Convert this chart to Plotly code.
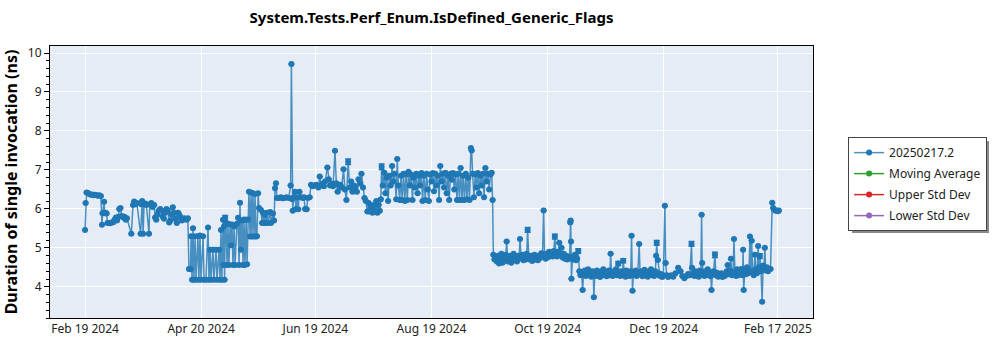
import plotly.graph_objects as go
import pandas as pd

start_date = "2024-02-19"

# day offsets from start_date and measured durations (ns)
days = [
    0, 0.3, 0.8, 1.5, 2.3, 3.0, 3.8, 4.5, 5.3, 6.0, 6.8, 7.5, 8.3,
    8.9, 9.2, 10.0, 10.3, 10.8, 11.3, 11.8, 12.5, 13.2, 14.0, 14.8, 15.5, 16.2, 16.8, 17.5, 18.0, 18.6, 19.3, 20.0, 20.7, 21.4, 22.0,
    24.3, 25.2, 25.8, 26.5, 27.2, 29.2, 29.6, 30.0, 30.5, 31.0, 31.6, 32.2, 33.6, 34.0, 34.8, 35.5, 36.3,
    36.8, 37.4, 38.0, 38.7, 39.5, 40.2, 40.8, 41.5, 42.1, 42.8, 43.5, 44.2, 44.8, 45.5, 46.1, 46.8, 47.5, 48.2, 48.9, 49.5, 50.2, 50.8, 51.5, 52.2, 52.8, 53.4, 54.0,
    54.6, 55.0, 55.4, 55.7, 56.2, 56.7, 57.2, 57.8, 58.3, 59.3, 59.8, 60.4, 60.9, 62.0, 62.5, 63.5, 64.6, 65.1, 65.7, 66.2, 67.2, 67.7, 68.8, 69.3, 70.4, 70.9, 71.4, 71.9, 72.5, 72.7, 73.0, 73.3,
    73.6, 74.0, 74.6, 75.1, 75.6, 76.2, 76.7, 77.2, 77.7, 78.3, 78.8, 79.8, 80.4, 80.9, 81.4, 81.9, 82.5, 83.0, 83.5, 84.0, 84.6, 85.1, 85.6,
    86.1, 86.7, 87.2, 87.7, 88.2, 88.8, 89.3, 89.8, 90.3, 90.9, 91.4, 92.4, 93.0, 93.5, 94.0, 94.5, 95.1, 95.6, 96.1, 97.2, 97.7, 98.7, 99.3,
    99.8, 100.3, 100.8, 101.8, 102.8, 103.8, 104.8, 105.8, 107.0, 108.0, 108.4, 108.8, 109.1, 109.6, 110.3, 110.8, 111.3, 112.0, 112.6, 113.3, 114.3, 115.0, 115.6, 116.4, 117.0, 118.0,
    118.7, 119.5, 120.5, 121.5, 122.5, 123.3, 124.0, 124.8, 125.5, 126.1, 127.3, 128.0, 128.7, 129.4, 130.3, 131.3, 132.0, 132.7, 133.4, 134.1, 134.8, 135.8, 136.5, 137.3, 138.2,
    139.0, 139.8, 140.5, 141.3, 142.0, 142.8, 143.7, 144.4, 145.2, 146.0, 146.8, 147.5, 148.3, 149.0, 149.6, 150.3, 151.0, 151.6, 152.3, 153.0, 153.6, 154.2, 154.8, 155.4,
    155.8, 156.4, 157.2, 157.8, 158.5, 159.2, 159.9, 160.5, 161.3, 161.9, 162.6, 163.5, 164.0, 164.6, 165.3, 166.0, 166.6, 167.3, 168.0, 168.6, 169.3, 169.9, 170.6, 171.3,
    172.0, 172.6, 173.3, 174.0, 174.7, 175.4, 176.0, 176.7, 177.3, 178.0, 178.7, 179.4, 180.0, 180.6, 181.3, 182.0, 182.7, 183.3, 184.0, 184.7, 185.3, 186.0, 186.6, 187.3,
    188.0, 188.6, 189.3, 190.0, 190.7, 191.3, 192.0, 192.7, 193.3, 194.0, 194.7, 195.4, 196.0, 196.7, 197.3, 198.0, 198.6, 199.3, 200.0, 200.6, 201.3, 202.0, 202.7, 203.1,
    203.6, 204.3, 205.0, 205.6, 206.3, 207.0, 207.6, 208.3, 209.0, 209.6, 210.3, 211.0, 211.6, 212.3, 213.0, 213.6, 214.1,
    214.5, 215.1, 215.7, 216.3, 216.9, 217.5, 218.1, 218.7, 219.3, 219.9, 220.5, 221.0, 221.5, 222.1, 222.7, 223.3, 223.9, 224.5, 225.1, 225.7, 226.3, 226.9, 227.5, 228.0,
    228.5, 229.1, 229.7, 230.3, 230.9, 231.5, 232.0, 232.5, 233.1, 233.7, 234.3, 234.9, 235.5, 236.1, 236.7, 237.3, 237.9, 238.5, 239.1, 239.7, 240.3, 240.9, 241.4, 242.0,
    242.6, 243.2, 243.8, 244.4, 245.0, 245.6, 246.2, 246.8, 247.4, 248.0, 248.6, 249.1, 249.7, 250.3, 250.9, 251.5, 252.1, 252.7, 253.3, 253.9, 254.5, 254.9, 255.1, 255.3,
    255.5, 256.1, 256.7, 257.3, 257.9, 258.5, 259.1,
    259.7, 260.3, 260.8, 261.4, 261.9, 262.5, 263.0, 263.6, 264.2, 264.7, 265.3, 265.9, 266.4, 267.0, 267.3, 267.8, 268.4, 268.9, 269.5, 270.1, 270.6, 271.2, 271.8, 272.3,
    272.9, 273.5, 274.0, 274.6, 275.2, 275.7, 276.1, 276.6, 277.2, 277.8, 278.3, 278.9, 279.5, 280.1, 280.6, 281.2, 281.8, 282.3, 282.7, 283.3, 283.9, 284.4, 285.0, 285.6,
    286.1, 286.7, 287.1, 287.6, 288.1, 288.7, 289.3, 289.8, 290.4, 291.1, 291.6, 292.2, 292.8, 293.3, 293.9, 294.5, 295.0, 295.6, 296.2, 296.7, 297.3, 297.9, 298.4, 299.0,
    299.6, 300.0, 300.3, 300.9, 301.5, 302.0, 302.6, 303.2, 303.8, 304.6, 305.0, 305.6, 306.3, 307.0, 308.0, 309.0, 310.2, 311.6, 312.8, 313.8, 314.8, 315.8, 316.8, 317.7,
    318.6, 318.9, 319.5, 320.1, 320.7, 321.2, 321.8, 322.4, 323.0, 323.5, 323.9, 324.2, 324.8, 325.4, 325.9, 326.5, 327.1, 327.6, 328.2, 328.7, 329.1, 329.6, 330.2, 330.9,
    331.4, 332.0, 332.6, 333.1, 333.7, 334.3, 334.9, 335.5, 336.1, 336.6, 337.1, 337.6, 338.2, 338.8, 339.3, 339.8, 340.4, 340.9, 341.4, 342.0, 342.6, 343.1, 343.7, 344.3,
    344.9, 345.4, 345.7, 346.0, 346.6, 347.2, 347.7, 348.3, 348.8, 349.3, 349.8, 350.2, 350.7, 351.3, 351.9, 352.4, 353.0, 353.6, 354.1, 354.5, 355.1, 355.7, 356.2, 356.6,
    357.1, 357.6, 358.2, 358.8, 359.4, 360.1, 361.0, 361.5, 362.1, 362.7, 363.4, 364.0, 364.5,
]

durations = [
    5.46, 6.15, 6.42, 6.41, 6.38, 6.36, 6.37, 6.35, 6.36, 6.35, 6.34, 6.35, 6.33,
    5.59, 5.89, 6.18, 5.89, 5.90, 5.88, 5.64, 5.64, 5.63, 5.65, 5.66, 5.72, 5.78, 5.70, 5.80, 6.00, 6.02, 5.82, 5.78, 5.80, 5.72, 5.76,
    5.36, 6.10, 6.19, 6.12, 6.15, 5.36, 6.12, 6.20, 5.36, 6.12, 6.14, 6.10, 5.36, 6.12, 6.15, 6.05, 6.10,
    5.78, 5.72, 5.85, 5.95, 6.00, 5.95, 5.80, 5.75, 5.90, 6.00, 5.95, 5.65, 5.70, 5.85, 6.04, 5.90, 5.75, 5.64, 5.90, 5.85, 5.78, 5.70, 5.72, 5.76, 5.74, 5.72, 5.76,
    4.46, 4.46, 4.45, 5.30, 4.18, 5.50, 4.18, 5.30, 4.18, 5.30, 4.18, 5.32, 4.18, 5.30, 4.18, 4.18, 5.52, 4.18, 4.95, 4.18, 4.95, 4.18, 4.95, 4.18, 4.95, 4.18, 5.46, 4.18, 5.72, 4.56, 5.55, 4.18,
    5.77, 5.62, 4.56, 5.62, 4.56, 5.60, 5.07, 5.60, 4.56, 5.55, 4.56, 5.62, 5.77, 4.56, 6.16, 4.95, 5.70, 4.56, 5.73, 4.56, 5.72, 4.58, 5.73,
    6.44, 5.29, 6.42, 5.29, 6.40, 5.29, 6.38, 5.29, 5.30, 6.40, 6.02, 5.97, 5.64, 5.90, 5.64, 5.85, 5.64, 5.90, 5.64, 5.92, 5.64, 5.88, 5.70,
    6.53, 6.66, 6.28, 6.28, 6.30, 6.27, 6.28, 6.30, 6.28, 6.60, 9.72, 6.25, 5.95, 6.30, 6.44, 6.00, 6.30, 5.99, 6.44, 6.30, 6.28, 6.30, 6.00, 5.99, 6.28, 6.30,
    6.62, 6.58, 6.60, 6.62, 6.55, 6.83, 6.60, 6.65, 6.58, 6.70, 7.06, 6.76, 6.60, 6.65, 6.58, 7.49, 6.66, 6.44, 6.60, 6.62, 6.55, 7.02, 6.50, 6.23, 7.21,
    6.55, 6.70, 6.44, 6.60, 6.55, 6.44, 6.76, 6.65, 6.90, 6.55, 6.28, 6.20, 5.93, 6.15, 5.93, 6.05, 5.90, 6.10, 5.95, 6.20, 5.90, 6.10, 5.95, 6.25,
    7.08, 6.60, 6.93, 6.40, 6.80, 6.20, 6.85, 6.60, 7.10, 6.70, 6.90, 6.25, 7.28, 6.60, 6.23, 6.85, 6.23, 6.90, 6.20, 6.88, 6.23, 6.95, 6.60, 6.88,
    6.23, 6.80, 6.55, 6.90, 6.40, 6.85, 6.60, 6.92, 6.20, 6.85, 6.23, 6.90, 6.50, 6.20, 6.88, 6.70, 6.92, 6.45, 6.90, 6.60, 6.85, 6.23, 7.10, 6.70,
    6.90, 6.55, 6.93, 6.40, 6.85, 6.23, 6.90, 6.75, 6.92, 6.50, 6.88, 6.23, 6.90, 6.23, 7.05, 6.23, 6.85, 6.23, 6.90, 6.25, 6.80, 6.23, 7.56, 7.50,
    6.90, 6.30, 6.88, 6.55, 6.92, 6.40, 6.85, 6.60, 6.90, 6.30, 7.05, 6.70, 6.90, 6.50, 6.88, 6.93, 6.23,
    4.82, 4.70, 4.78, 4.65, 4.80, 4.60, 4.75, 4.85, 4.62, 4.78, 4.70, 4.82, 5.16, 4.65, 4.75, 4.80, 4.62, 4.72, 4.85, 4.70, 4.78, 4.65, 4.80, 4.72,
    5.23, 4.74, 4.82, 4.68, 4.78, 4.70, 4.85, 5.46, 4.75, 4.70, 4.80, 4.66, 4.74, 4.82, 4.70, 4.78, 4.68, 4.80, 4.74, 4.86, 4.78, 5.96, 4.80, 4.72,
    4.85, 4.76, 4.90, 4.80, 4.88, 4.78, 4.92, 5.29, 4.85, 4.78, 4.90, 5.13, 4.82, 5.00, 4.75, 4.85, 4.72, 4.80, 4.70, 4.78, 4.72, 5.65, 5.70, 5.16,
    4.21, 4.75, 4.70, 4.82, 4.68, 4.72, 4.92,
    4.40, 4.30, 4.38, 3.92, 4.33, 4.42, 4.28, 4.36, 4.45, 4.30, 4.38, 4.26, 4.40, 4.32, 3.73, 4.35, 4.28, 4.42, 4.30, 4.36, 4.25, 4.40, 4.33, 4.45,
    4.30, 4.38, 4.27, 4.35, 4.42, 4.30, 4.85, 4.36, 4.28, 4.40, 4.33, 4.45, 4.30, 4.60, 4.35, 4.28, 4.40, 4.32, 4.67, 4.38, 4.26, 4.42, 4.30, 4.36,
    4.28, 4.40, 5.31, 3.90, 4.35, 4.30, 4.42, 4.28, 4.36, 5.10, 4.32, 4.40, 4.27, 4.35, 4.44, 4.30, 4.38, 4.26, 4.40, 4.33, 4.45, 4.30, 4.36, 4.28,
    4.40, 4.80, 5.13, 4.69, 4.35, 4.28, 4.32, 4.25, 4.30, 6.08, 4.61, 4.30, 4.25, 4.28, 4.30, 4.26, 4.35, 4.49, 4.40, 4.28, 4.22, 4.27, 4.33, 4.30,
    5.10, 4.49, 4.35, 4.28, 4.40, 4.30, 4.36, 4.26, 4.42, 4.32, 5.85, 4.61, 4.38, 4.28, 4.40, 4.33, 4.45, 4.30, 4.36, 4.27, 3.92, 4.35, 4.40, 4.82,
    4.30, 4.36, 4.26, 4.32, 4.28, 4.35, 4.25, 4.30, 4.28, 4.33, 4.40, 4.56, 4.32, 4.42, 4.72, 4.30, 4.36, 5.23, 4.38, 4.28, 4.45, 4.30, 4.40, 4.33,
    4.46, 4.30, 4.95, 3.92, 4.40, 4.32, 4.50, 4.35, 4.42, 5.29, 4.38, 5.18, 4.40, 4.30, 4.82, 4.45, 4.35, 5.05, 4.50, 4.79, 4.40, 3.62, 4.55, 4.45,
    5.00, 4.42, 4.50, 4.40, 4.45, 4.46, 6.16, 6.02, 5.98, 5.95, 5.96, 5.94, 5.96,
]

# points that show a visible error bar (day offset, half-width in ns)
err_days = [73.6, 138.2, 155.8, 232.5, 246.8, 259.1, 280.1, 282.7, 300.3, 318.6, 330.9, 354.5]
err_sizes = [0.06, 0.07, 0.07, 0.06, 0.06, 0.06, 0.05, 0.05, 0.06, 0.06, 0.07, 0.06]

tick_dates = ["2024-02-19", "2024-04-20", "2024-06-19", "2024-08-19", "2024-10-19", "2024-12-19", "2025-02-17"]
tick_labels = ["Feb 19 2024", "Apr 20 2024", "Jun 19 2024", "Aug 19 2024", "Oct 19 2024", "Dec 19 2024", "Feb 17 2025"]

series_names = ["20250217.2", "Moving Average", "Upper Std Dev", "Lower Std Dev"]
series_colors = ["#1f77b4", "#2ca02c", "#d62728", "#9467bd"]

start = pd.Timestamp(start_date)
dates = [start + pd.Timedelta(days=d) for d in days]
err_map = dict(zip(err_days, err_sizes))
errors = [err_map.get(d, 0.0) for d in days]

FONT = "Segoe UI, Noto Sans, sans-serif"

fig = go.Figure()
fig.add_trace(go.Scatter(
    x=dates, y=durations, mode="lines+markers", name=series_names[0],
    line=dict(color="rgba(31,119,180,0.8)", width=1.5),
    marker=dict(color=series_colors[0], size=6),
    error_y=dict(type="data", array=errors, visible=True, color=series_colors[0], thickness=1.5, width=3),
    legendgroup="a",
))
for name, col, grp in zip(series_names[1:], series_colors[1:], ["b", "c", "d"]):
    fig.add_trace(go.Scatter(
        x=[None], y=[None], mode="lines+markers", name=name,
        line=dict(color=col, width=1.5), marker=dict(color=col, size=6),
        legendgroup=grp,
    ))

# legend drop shadow (drawn behind the legend box)
fig.add_shape(type="rect", xref="paper", yref="paper",
              x0=(852 - 50) / 763, x1=(989 - 50) / 763,
              y0=(318 - 233) / 272, y1=(318 - 141) / 272,
              fillcolor="#8a8a8a", line=dict(width=0), layer="above")

fig.update_layout(
    width=1000, height=350,
    margin=dict(l=50, r=187, t=46, b=32, autoexpand=False),
    paper_bgcolor="white",
    plot_bgcolor="#e5ecf6",
    font=dict(family=FONT, size=12, color="#222"),
    title=dict(text="<b>System.Tests.Perf_Enum.IsDefined_Generic_Flags</b>",
               x=0.5, xref="paper", xanchor="center", y=1 - 18 / 350, yanchor="middle",
               font=dict(size=15, color="black", family=FONT)),
    showlegend=True,
    legend=dict(
        x=1.046, y=0.665, xanchor="left", yanchor="top",
        bgcolor="white", bordercolor="#444", borderwidth=1,
        font=dict(size=12, color="#222"),
        traceorder="grouped", tracegroupgap=2,
    ),
    xaxis=dict(
        type="date",
        range=["2024-01-31 14:00", "2025-03-07 10:00"],
        tickvals=tick_dates, ticktext=tick_labels,
        showgrid=True, gridcolor="white", gridwidth=1,
        showline=True, linecolor="black", linewidth=1, mirror=True,
        ticks="", zeroline=False, automargin=False,
        tickfont=dict(size=12, color="#222"),
    ),
    yaxis=dict(
        range=[3.2, 10.18],
        tickvals=[4, 5, 6, 7, 8, 9, 10],
        showgrid=True, gridcolor="white", gridwidth=1,
        showline=True, linecolor="black", linewidth=1, mirror=True,
        ticks="outside", ticklen=5, tickcolor="black",
        minor=dict(dtick=0.2, ticks="outside", ticklen=3, tickcolor="black", showgrid=False),
        zeroline=False, automargin=False,
        tickfont=dict(size=12, color="#222"),
        title=dict(text="<b>Duration of single invocation (ns)</b>", font=dict(size=16, color="black", family=FONT), standoff=8),
    ),
)

fig.write_html("out.html")
